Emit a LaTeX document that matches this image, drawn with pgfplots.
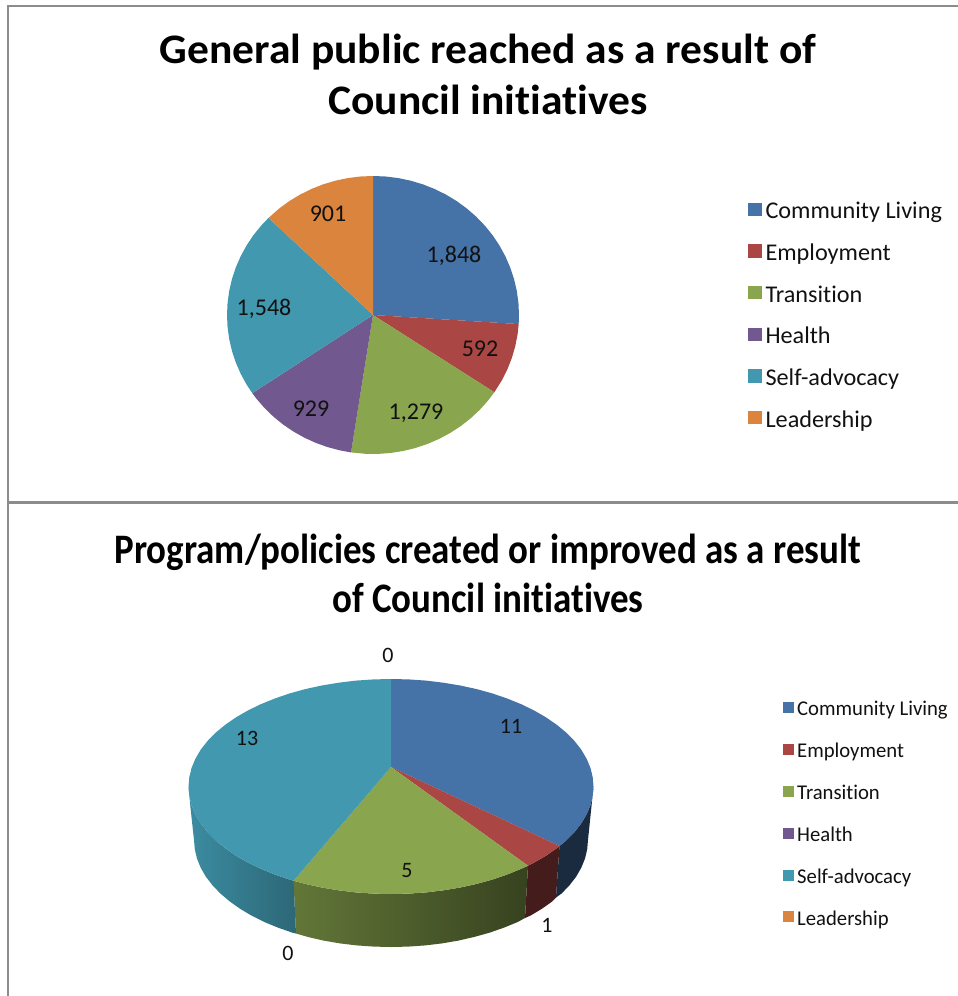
\documentclass[border=0pt]{standalone}
\usepackage{pgfplots}
\pgfplotsset{compat=1.18}
\usepackage{fontspec}
\setmainfont[Ligatures=NoCommon]{Carlito}
\newfontfamily\titA[FakeStretch=1.036,Ligatures=NoCommon,BoldFont={Carlito Bold}]{Carlito}
\newfontfamily\titB[FakeStretch=0.88,Ligatures=NoCommon,BoldFont={Carlito Bold}]{Carlito}
\newfontfamily\legA[FakeStretch=1.01,Ligatures=NoCommon]{Carlito}
\newfontfamily\legB[FakeStretch=0.985,Ligatures=NoCommon]{Carlito}
\definecolor{cblue}{HTML}{4572A7}
\definecolor{cred}{HTML}{AA4643}
\definecolor{cgreen}{HTML}{89A54E}
\definecolor{cpurple}{HTML}{71588F}
\definecolor{cteal}{HTML}{4198AF}
\definecolor{corange}{HTML}{DB843D}
\definecolor{txt}{HTML}{111111}
\pgfplotsset{
  sq/.style={legend image code/.code={\fill[##1] (0pt,-2pt) rectangle (#1,\dimexpr#1-2pt\relax);}},
}
\begin{document}
\begin{tikzpicture}[x=1pt,y=1pt]
\useasboundingbox (0,0) rectangle (958,996);
% ---- page axis in pixel coordinates: frame and the perspective pie
\begin{axis}[at={(0pt,0pt)},anchor=south west,width=958pt,height=996pt,scale only axis,
  xmin=0,xmax=958,ymin=0,ymax=996,y dir=reverse,hide axis,clip=false,
  legend style={at={(axis cs:782.5,700)},anchor=north west,draw=none,fill=none,
    font=\fontsize{21}{21}\legB\color{txt},row sep=20.4pt,column sep=3.5pt,inner sep=0pt,
    nodes={inner sep=0pt,text height=15.5pt,text depth=6pt}},
  legend cell align=left,sq=11pt]
% frame
\addplot[draw=gray!90,line width=2pt,forget plot] coordinates {(8,996) (8,6) (958,6)};
\addplot[draw=gray!90,line width=3pt,forget plot] coordinates {(8,502.5) (958,502.5)};
% walls
\addplot[draw=none,fill=cblue!38!black,forget plot] coordinates {(593.5,786.5) (592.7,795.9) (590.4,805.2) (586.6,814.3) (581.3,823.3) (574.5,832) (566.4,840.3) (559.5,846)
  (556,897.5) (561.6,893.5) (569.5,885.3) (576.2,876.6) (581.3,867.7) (585,858.6) (587.2,849.3) (588,840) (591.5,806)} -- cycle;
\addplot[draw=none,fill=cred!40!black,forget plot] coordinates {(559.5,846) (556.8,848.2) (546.1,855.6) (534.2,862.5) (528,865.7)
  (525,918) (530.3,915.7) (541.9,908.8) (552.3,901.4) (556,897.5)} -- cycle;
\addplot[draw=none,left color=cgreen!72!black,middle color=cgreen!52!black,right color=cgreen!40!black,forget plot] coordinates {(528,865.7) (521.2,868.8) (507.2,874.5) (492.3,879.6) (476.7,883.9) (460.3,887.5) (443.4,890.3) (426.2,892.4) (408.6,893.6) (391,894) (373.4,893.6) (355.8,892.4) (338.6,890.3) (321.7,887.5) (305.3,883.9) (293.5,880.7)
  (296,933.5) (307.7,936.9) (323.6,940.6) (340,943.4) (356.7,945.4) (373.9,946.6) (391,947) (408.1,946.6) (425.3,945.4) (442,943.4) (458.4,940.6) (474.3,936.9) (489.5,932.7) (504.1,927.6) (517.7,922) (525,918)} -- cycle;
\addplot[draw=none,left color=cteal!92!black,right color=cteal!68!black,forget plot] coordinates {(293.5,880.7) (289.7,879.6) (274.8,874.5) (260.8,868.8) (247.8,862.5) (235.9,855.6) (225.2,848.2) (215.6,840.3) (207.5,832) (200.7,823.3) (195.4,814.3) (191.6,805.2) (189.3,795.9) (188.5,786.5)
  (190.3,806) (194,840) (194.8,849.3) (197,858.6) (200.7,867.7) (205.8,876.6) (212.5,885.3) (220.4,893.5) (229.7,901.4) (240.1,908.8) (251.7,915.7) (264.3,922) (277.9,927.6) (292.5,932.7) (296,933.5)} -- cycle;
% top faces (values 11, 1, 5, 0, 13, 0)
\addplot[draw=none,fill=cblue] coordinates {(391,767) (391,679) (408.6,679.4) (426.2,680.6) (443.4,682.7) (460.3,685.5) (476.7,689.1) (492.3,693.4) (507.2,698.5) (521.2,704.2) (534.2,710.5) (546.1,717.4) (556.8,724.8) (566.4,732.7) (574.5,741) (581.3,749.7) (586.6,758.7) (590.4,767.8) (592.7,777.1) (593.5,786.5) (592.7,795.9) (590.4,805.2) (586.6,814.3) (581.3,823.3) (574.5,832) (566.4,840.3) (559.5,846)} -- cycle;
\addlegendentry{Community Living}
\addplot[draw=none,fill=cred] coordinates {(391,767) (559.5,846) (556.8,848.2) (546.1,855.6) (534.2,862.5) (528,865.7)} -- cycle;
\addlegendentry{Employment}
\addplot[draw=none,fill=cgreen] coordinates {(391,767) (528,865.7) (521.2,868.8) (507.2,874.5) (492.3,879.6) (476.7,883.9) (460.3,887.5) (443.4,890.3) (426.2,892.4) (408.6,893.6) (391,894) (373.4,893.6) (355.8,892.4) (338.6,890.3) (321.7,887.5) (305.3,883.9) (293.5,880.7)} -- cycle;
\addlegendentry{Transition}
\addlegendimage{draw=none,fill=cpurple}
\addlegendentry{Health}
\addplot[draw=none,fill=cteal] coordinates {(391,767) (293.5,880.7) (289.7,879.6) (274.8,874.5) (260.8,868.8) (247.8,862.5) (235.9,855.6) (225.2,848.2) (215.6,840.3) (207.5,832) (200.7,823.3) (195.4,814.3) (191.6,805.2) (189.3,795.9) (188.5,786.5) (189.3,777.1) (191.6,767.8) (195.4,758.7) (200.7,749.7) (207.5,741) (215.6,732.7) (225.2,724.8) (235.9,717.4) (247.8,710.5) (260.8,704.2) (274.8,698.5) (289.7,693.4) (305.3,689.1) (321.7,685.5) (338.6,682.7) (355.8,680.6) (373.4,679.4) (391,679)} -- cycle;
\addlegendentry{Self-advocacy}
\addlegendimage{draw=none,fill=corange}
\addlegendentry{Leadership}
% labels
\node[font=\fontsize{22}{22}\selectfont,text=txt] at (axis cs:511,726) {11};
\node[font=\fontsize{22}{22}\selectfont,text=txt] at (axis cs:247,738) {13};
\node[font=\fontsize{22}{22}\selectfont,text=txt] at (axis cs:407,871) {5};
\node[font=\fontsize{22}{22}\selectfont,text=txt] at (axis cs:547,925) {1};
\node[font=\fontsize{22}{22}\selectfont,text=txt] at (axis cs:388,655) {0};
\node[font=\fontsize{22}{22}\selectfont,text=txt] at (axis cs:288,953) {0};
% titles
\node[font=\fontsize{42}{51}\titA\bfseries,align=center,text=black] at (axis cs:488,74) {General public reached as a result of\\Council initiatives};
\node[font=\fontsize{42}{49}\titB\bfseries,align=center,text=black] at (axis cs:488,573) {Program/policies created or improved as a result\\of Council initiatives};
\end{axis}
% ---- flat pie, angles in degrees from the values 1848, 592, 1279, 929, 1548, 901
\begin{axis}[at={(373pt,681pt)},anchor=center,width=292pt,height=278pt,scale only axis,
  xmin=-1,xmax=1,ymin=-1,ymax=1,hide axis,clip=false,data cs=polar,
  legend style={at={(axis cs:2.57,0.81)},anchor=north west,draw=none,fill=none,
    font=\fontsize{24}{24}\legA\color{txt},row sep=19pt,column sep=3.7pt,inner sep=0pt,
    nodes={inner sep=0pt,text height=16pt,text depth=6.5pt}},
  legend cell align=left,sq=13.4pt]
\addplot[draw=none,fill=cblue] coordinates {(0,0) (90,1) (85,1) (80,1) (75,1) (70,1) (65,1) (60,1) (55,1) (50,1) (45,1) (40,1) (35,1) (30,1) (25,1) (20,1) (15,1) (10,1) (5,1) (0,1) (-3.74,1)} -- cycle;
\addlegendentry{Community Living}
\addplot[draw=none,fill=cred] coordinates {(0,0) (-3.74,1) (-8,1) (-13,1) (-18,1) (-23,1) (-28,1) (-33.77,1)} -- cycle;
\addlegendentry{Employment}
\addplot[draw=none,fill=cgreen] coordinates {(0,0) (-33.77,1) (-38,1) (-43,1) (-48,1) (-53,1) (-58,1) (-63,1) (-68,1) (-73,1) (-78,1) (-83,1) (-88,1) (-93,1) (-98.65,1)} -- cycle;
\addlegendentry{Transition}
\addplot[draw=none,fill=cpurple] coordinates {(0,0) (-98.65,1) (-103,1) (-108,1) (-113,1) (-118,1) (-123,1) (-128,1) (-133,1) (-138,1) (-143,1) (-145.77,1)} -- cycle;
\addlegendentry{Health}
\addplot[draw=none,fill=cteal] coordinates {(0,0) (-145.77,1) (-150,1) (-155,1) (-160,1) (-165,1) (-170,1) (-175,1) (-180,1) (-185,1) (-190,1) (-195,1) (-200,1) (-205,1) (-210,1) (-215,1) (-220,1) (-224.29,1)} -- cycle;
\addlegendentry{Self-advocacy}
\addplot[draw=none,fill=corange] coordinates {(0,0) (-224.29,1) (-230,1) (-235,1) (-240,1) (-245,1) (-250,1) (-255,1) (-260,1) (-265,1) (-270,1)} -- cycle;
\addlegendentry{Leadership}
\end{axis}
% value labels of the flat pie, in page coordinates
\node[font=\fontsize{24}{24}\selectfont,text=txt] at (454,740) {1,848};
\node[font=\fontsize{24}{24}\selectfont,text=txt] at (480,647) {592};
\node[font=\fontsize{24}{24}\selectfont,text=txt] at (416,583) {1,279};
\node[font=\fontsize{24}{24}\selectfont,text=txt] at (311,587) {929};
\node[font=\fontsize{24}{24}\selectfont,text=txt] at (264,687) {1,548};
\node[font=\fontsize{24}{24}\selectfont,text=txt] at (328,782) {901};
\end{tikzpicture}
\end{document}
